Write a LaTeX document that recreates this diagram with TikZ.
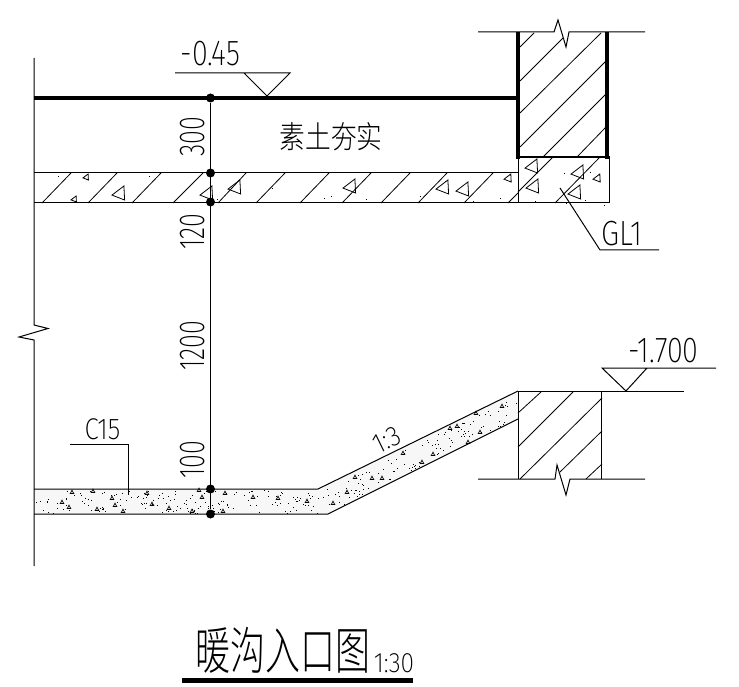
\documentclass[tikz,border=0pt]{standalone}
\usepackage{fontspec}
\newfontfamily\numfont{Fira Sans}[UprightFont=* ExtraLight]
\newfontfamily\cjkfont{Noto Sans CJK SC}[UprightFont=* Light]
\tikzset{
  thinl/.style={line width=1pt,black},
  thickl/.style={line width=4.5pt,black},
  hatchl/.style={line width=.8pt,black},
  dotn/.style={circle,fill=black,inner sep=0pt,minimum size=9pt},
  numl/.style={font=\numfont\fontsize{36}{36}\selectfont,inner sep=0pt,xscale=.8,transform shape},
  numv/.style={font=\numfont\fontsize{36}{36}\selectfont,inner sep=0pt,rotate=90,xscale=.7,transform shape},
  cjkl/.style={font=\cjkfont\fontsize{31}{31}\selectfont,inner sep=0pt,xscale=.83,transform shape},
  cjkt/.style={font=\cjkfont\fontsize{46}{46}\selectfont,inner sep=0pt,xscale=.76,yscale=1.1,transform shape},
}
\newcommand{\tri}[3]{\draw[line width=.8pt] ({#1-#3},{#2+.3*#3}) -- ({#1+.7*#3},{#2-#3}) -- ({#1+.8*#3},{#2+#3}) -- cycle;}
\newcommand{\stip}[2]{\fill[black] (#1,#2) rectangle ++(1.1,1.1);}
\begin{document}
\begin{tikzpicture}[x=1pt,y=-1pt]
\useasboundingbox (0,0) rectangle (739,687);
% concrete haze
\fill[black!3] (34,489) -- (318,489) -- (518,391) -- (518,419) -- (328,514) -- (34,514) -- cycle;
% left outline with break
\draw[thinl] (34,58) -- (34,325) -- (48,328.5) -- (19,337) -- (34,340) -- (34,566);
% ground line and upper band
\draw[thickl] (34,98) -- (517,98);
\draw[thinl] (34,173) -- (518,173);
\draw[thinl] (34,203) -- (609,203) -- (609,157) -- (518,157) -- (518,203);
% upper wall
\draw[thinl] (478,32) -- (554,32) -- (558,20) -- (566,47) -- (569,32) -- (645,32);
\draw[thickl] (518,32) -- (518,159);
\draw[thickl] (607,32) -- (607,159);
\draw[line width=1.5pt] (516,157) -- (609,157);
% wall hatch
\foreach \a/\b/\c/\d in {520/47/534/33,520/81/563/38,520/113/601/33,520/147/606/61,543/157/606/94,577/157/606/127}
  \draw[hatchl] (\a,\b) -- (\c,\d);
% band hatch
\foreach \a/\b/\c/\d in {42/203/71/173,88/203/117/173,132/203/161/173,173/203/203/173,218/203/246/173,256/203/285/173,300/203/329/173,342/203/371/173,381/203/410/173,418/203/447/173,464/203/493/173,508/203/518/193,518/192/553/157,555/203/600/157}
  \draw[hatchl] (\a,\b) -- (\c,\d);
% band aggregate
\foreach \a/\b/\s in {86/177/3,74/199/3,119/193/7,207/193/7,235/187/7,350/186/7,443/187/7,463/189/7,508/178/4,532/166/7,533/186/7,578/172/7,575/192/7,597/178/4}
  {\tri{\a}{\b}{\s}}
\foreach \a/\b in {58/176,149/176,129/202,177/202,217/199,226/202,272/188,324/198,366/199,331/196,420/196,396/202,445/181,473/201,500/198,512/202,535/201,564/173,585/200,590/172,566/203,604/205}
  {\stip{\a}{\b}}
% lower wall
\draw[thinl] (518,391) -- (684,391);
\draw[thinl] (478,479) -- (555,479) -- (557,465) -- (566,495) -- (570,479) -- (645,479);
\draw[thinl] (518,391) -- (518,479);
\draw[thinl] (601.5,391) -- (601.5,479);
\foreach \a/\b/\c/\d in {518/413/541/392,518/447/573/392,520/479/602/398,560/472/602/431,586/479/602/464}
  \draw[hatchl] (\a,\b) -- (\c,\d);
% lower band
\draw[thinl] (34,489) -- (318,489) -- (518,391);
\draw[thinl] (34,514) -- (328,514) -- (518,419);
% lower band stipple
\pgfmathsetseed{4217}
\foreach \i in {1,...,170}{
  \pgfmathsetmacro\px{35+rnd*285}
  \pgfmathsetmacro\py{490+rnd*23}
  \fill[black] (\px,\py) rectangle ++(.9,.9);
}
\foreach \i in {1,...,110}{
  \pgfmathsetmacro\tt{rnd}
  \pgfmathsetmacro\ss{.05+rnd*.9}
  \pgfmathsetmacro\px{323+\tt*195}
  \pgfmathsetmacro\py{489+\tt*(391-489)+\ss*27}
  \fill[black] (\px,\py) rectangle ++(.9,.9);
}
\foreach \a/\b in {72/492,93/491,112/498,69/507,62/502,97/509,115/505,123/511,152/504,169/508,192/511,202/497,199/490,147/493,225/493,223/511,253/497,278/498,307/501,502/406,476/413,457/426,450/428,480/432,403/453,433/454,422/462,468/442,355/477,382/478,372/478,347/492,333/503}
  {\draw[line width=.7pt] ({\a-1.7},{\b+1.4}) -- (\a,{\b-1.8}) -- ({\a+1.7},{\b+1.4}) -- cycle;}
% dimension line and points
\node[dotn] (d1) at (210.5,98) {};
\node[dotn] (d2) at (210.5,173) {};
\node[dotn] (d3) at (210.5,202) {};
\node[dotn] (d4) at (210.5,489) {};
\node[dotn] (d5) at (210.5,514) {};
\draw[thinl] (d1) -- (d5);
\node[numv] (t300) at (193,137) {300};
\node[numv] (t120) at (193,232) {120};
\node[numv] (t1200) at (193,346) {1200};
\node[numv] (t100) at (193,460) {100};
% level marks
\node[numl,anchor=base] (t045) at (210.5,66) {-0.45};
\coordinate (m1a) at (175,73);
\coordinate (m1b) at (290,73);
\coordinate (m1c) at (267,96);
\coordinate (m1d) at (244,73);
\draw[thinl] (m1a) -- (m1b) -- (m1c) -- (m1d);
\node[numl,anchor=base] (t170) at (663.5,362) {-1.700};
\coordinate (m2a) at (716,368);
\coordinate (m2b) at (602,368);
\coordinate (m2c) at (626,391);
\coordinate (m2d) at (647,368);
\draw[thinl] (m2a) -- (m2b) -- (m2c) -- (m2d);
% leaders
\node[anchor=base,inner sep=0pt,font=\numfont\fontsize{30}{30}\selectfont,xscale=.86,transform shape] (tc15) at (102.5,439) {C15};
\coordinate (c1) at (70,444);
\coordinate (c2) at (128,444);
\coordinate (c3) at (128,494);
\draw[thinl] (c1) -- (c2) -- (c3);
\node[anchor=base,inner sep=0pt,font=\numfont\fontsize{35}{35}\selectfont,xscale=.84,transform shape] (tgl) at (622,246) {GL1};
\coordinate (g1) at (560,188);
\coordinate (g2) at (600,250);
\coordinate (g3) at (659,250);
\draw[thinl] (g1) -- (g2) -- (g3);
\node[inner sep=0pt,rotate=26,font=\numfont\fontsize{28}{28}\selectfont,xscale=.9,transform shape] (t13) at (387,440) {1:3};
% labels
\node[cjkl] (tsu) at (331,137) {素土夯实};
\node[cjkt] (ttitle) at (283,650) {暖沟入口图};
\node[anchor=base,inner sep=0pt,font=\numfont\fontsize{28}{28}\selectfont,xscale=.88,transform shape] (tscale) at (394,672) {1:30};
\draw[line width=5pt] (182,680) -- (413,680);
\end{tikzpicture}
\end{document}
